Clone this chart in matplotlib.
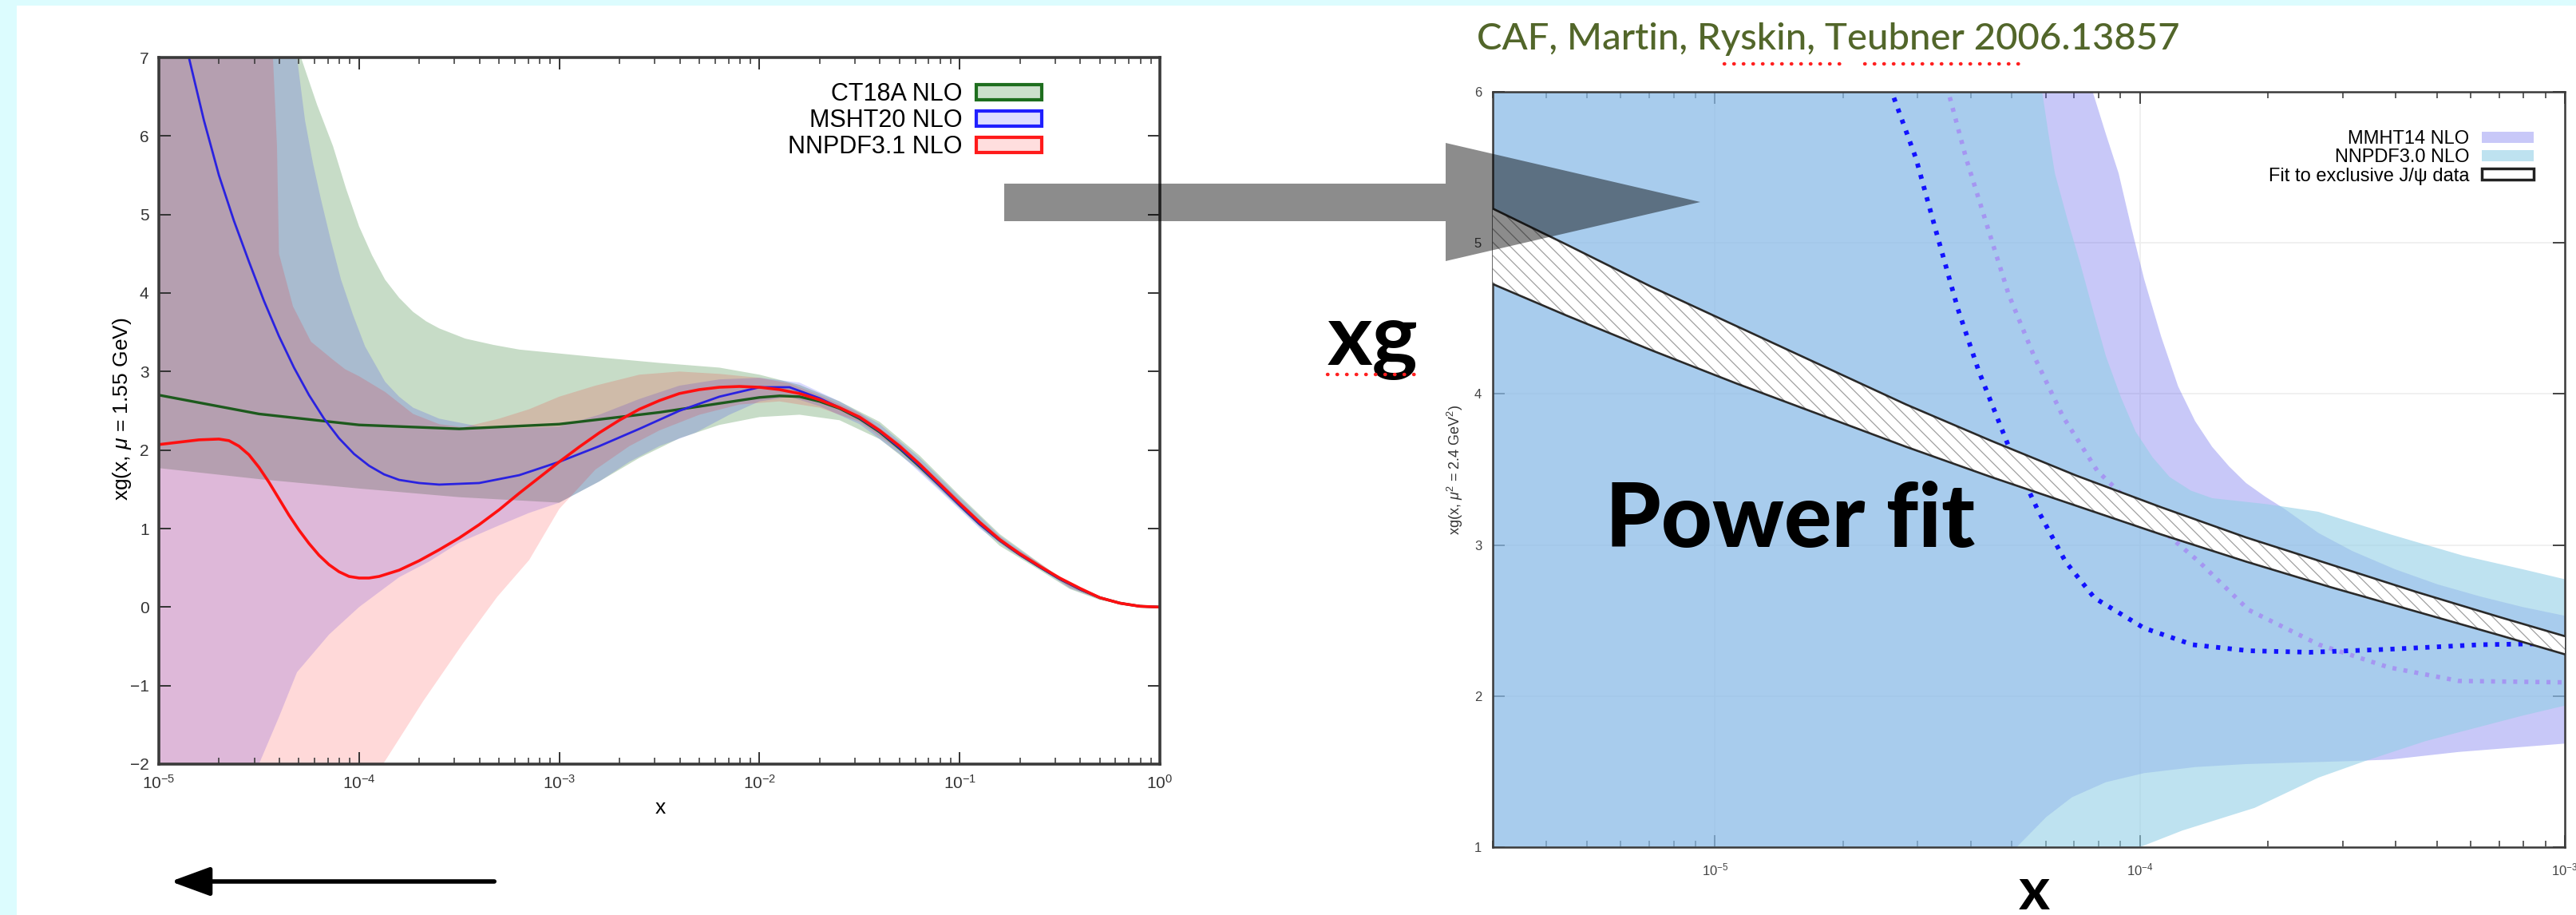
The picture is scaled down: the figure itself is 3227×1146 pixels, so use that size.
import numpy as np
import matplotlib
matplotlib.use("Agg")
import matplotlib.pyplot as plt
from matplotlib.patches import Patch, Polygon, Rectangle, FancyArrowPatch
from matplotlib.lines import Line2D
from matplotlib.ticker import LogLocator, NullFormatter

plt.rcParams['font.family'] = ['Liberation Sans', 'DejaVu Sans']
plt.rcParams['mathtext.fontset'] = 'custom'
plt.rcParams['mathtext.rm'] = 'Liberation Sans'
plt.rcParams['mathtext.it'] = 'Liberation Sans:italic'
plt.rcParams['hatch.linewidth'] = 0.9

W, H = 3227, 1146

# ---------------- left panel: xg at mu = 1.55 GeV (log10 x, xg) ----------------
ct_lx = [-5.0, -4.5, -4.0, -3.5, -3.0, -2.5, -2.0, -1.9, -1.8, -1.7, -1.6, -1.5, -1.4,
         -1.3, -1.2, -1.1, -1.0, -0.9, -0.8, -0.7, -0.6, -0.5, -0.4, -0.3, -0.2, -0.1, 0.0]
ct_y = [2.70, 2.46, 2.32, 2.27, 2.33, 2.48, 2.67, 2.69, 2.68, 2.62, 2.53, 2.40, 2.23,
        2.02, 1.79, 1.55, 1.30, 1.06, 0.85, 0.67, 0.51, 0.36, 0.23, 0.12, 0.05, 0.01, 0.0]

msht_lx = [-4.95, -4.85, -4.775, -4.7, -4.625, -4.55, -4.475, -4.4, -4.325, -4.25, -4.175,
           -4.1, -4.025, -3.95, -3.875, -3.8, -3.7, -3.6, -3.4, -3.2, -3.0, -2.8, -2.6,
           -2.4, -2.2, -2.0, -1.85, -1.7, -1.6, -1.5, -1.4, -1.3, -1.2, -1.1, -1.0, -0.9,
           -0.8, -0.7, -0.6, -0.5, -0.4, -0.3, -0.2, -0.1, 0.0]
msht_y = [8.0, 7.0, 6.2, 5.5, 4.92, 4.4, 3.9, 3.45, 3.05, 2.7, 2.4, 2.15, 1.95, 1.8,
          1.69, 1.62, 1.58, 1.56, 1.58, 1.68, 1.85, 2.05, 2.27, 2.5, 2.68, 2.8, 2.80,
          2.66, 2.54, 2.41, 2.24, 2.03, 1.80, 1.55, 1.30, 1.06, 0.85, 0.67, 0.51, 0.36,
          0.23, 0.12, 0.05, 0.01, 0.0]

nn31_lx = [-5.0, -4.9, -4.8, -4.7, -4.65, -4.6, -4.55, -4.5, -4.45, -4.4, -4.35, -4.3,
           -4.25, -4.2, -4.15, -4.1, -4.05, -4.0, -3.95, -3.9, -3.8, -3.7, -3.6, -3.5,
           -3.4, -3.3, -3.2, -3.1, -3.0, -2.9, -2.8, -2.7, -2.6, -2.5, -2.4, -2.3, -2.2,
           -2.1, -2.0, -1.9, -1.8, -1.7, -1.6, -1.5, -1.4, -1.3, -1.2, -1.1, -1.0, -0.9,
           -0.8, -0.7, -0.6, -0.5, -0.4, -0.3, -0.2, -0.1, 0.0]
nn31_y = [2.07, 2.10, 2.13, 2.14, 2.12, 2.05, 1.94, 1.78, 1.59, 1.38, 1.17, 0.98,
          0.81, 0.66, 0.54, 0.45, 0.39, 0.37, 0.37, 0.39, 0.47, 0.59, 0.73, 0.88,
          1.05, 1.24, 1.45, 1.65, 1.85, 2.04, 2.22, 2.38, 2.52, 2.63, 2.72, 2.77, 2.80,
          2.81, 2.80, 2.77, 2.72, 2.64, 2.54, 2.42, 2.25, 2.05, 1.82, 1.57, 1.32, 1.08,
          0.86, 0.68, 0.52, 0.37, 0.24, 0.12, 0.05, 0.01, 0.0]

ct_up_lx = [-5.0, -4.36, -4.29, -4.21, -4.13, -4.065, -4.0, -3.935, -3.87, -3.8, -3.73,
            -3.665, -3.6, -3.47, -3.33, -3.2, -2.8, -2.5, -2.2, -2.0, -1.8, -1.6, -1.4,
            -1.2, -1.0, -0.8, -0.6, -0.45, -0.3, -0.15, 0.0]
ct_up_y = [9.0, 8.0, 7.0, 6.4, 5.87, 5.33, 4.85, 4.48, 4.17, 3.94, 3.76,
           3.64, 3.55, 3.42, 3.34, 3.28, 3.18, 3.11, 3.05, 2.96, 2.83, 2.62, 2.36,
           1.93, 1.42, 0.93, 0.56, 0.29, 0.13, 0.04, 0.005]
ct_lo_lx = [-5.0, -4.5, -4.0, -3.5, -3.0, -2.8, -2.6, -2.4, -2.2, -2.0, -1.8, -1.6,
            -1.4, -1.2, -1.0, -0.8, -0.6, -0.45, -0.3, -0.15, 0.0]
ct_lo_y = [1.77, 1.63, 1.51, 1.40, 1.33, 1.6, 1.9, 2.15, 2.32, 2.42, 2.45, 2.38,
           2.14, 1.74, 1.26, 0.78, 0.47, 0.23, 0.09, 0.02, -0.005]

msht_up_lx = [-5.0, -4.35, -4.31, -4.27, -4.23, -4.19, -4.14, -4.09, -4.03, -3.97, -3.87,
              -3.8, -3.73, -3.6, -3.4, -3.2, -3.0, -2.8, -2.6, -2.4, -2.2, -2.0, -1.8,
              -1.6, -1.4, -1.2, -1.0, -0.8, -0.6, -0.45, -0.3, -0.15, 0.0]
msht_up_y = [9.0, 8.0, 7.0, 6.2, 5.65, 5.19, 4.66, 4.17, 3.72, 3.32, 2.87,
             2.68, 2.54, 2.40, 2.30, 2.28, 2.30, 2.45, 2.65, 2.82, 2.90, 2.92, 2.86,
             2.62, 2.33, 1.90, 1.40, 0.91, 0.55, 0.29, 0.12, 0.04, 0.004]
msht_lo_lx = [-5.0, -4.6, -4.5, -4.4, -4.31, -4.15, -4.0, -3.8, -3.65, -3.5, -3.31, -3.15,
              -3.0, -2.8, -2.65, -2.5, -2.32, -2.15, -2.0, -1.85, -1.7, -1.5, -1.3, -1.1,
              -0.9, -0.75, -0.6, -0.45, -0.3, -0.15, 0.0]
msht_lo_y = [-4.0, -3.0, -2.0, -1.4, -0.83, -0.35, 0.0, 0.38, 0.58, 0.82, 1.03, 1.2,
             1.33, 1.6, 1.85, 2.05, 2.22, 2.45, 2.62, 2.68, 2.56, 2.33, 1.95, 1.48,
             1.0, 0.72, 0.49, 0.24, 0.1, 0.02, -0.004]

nn31_up_lx = [-5.0, -4.45, -4.43, -4.41, -4.40, -4.33, -4.24, -4.13, -4.07, -4.0, -3.87, -3.73,
              -3.6, -3.48, -3.3, -3.15, -3.0, -2.82, -2.6, -2.4, -2.2, -2.0, -1.85, -1.7,
              -1.5, -1.3, -1.1, -0.9, -0.75, -0.6, -0.45, -0.3, -0.15, 0.0]
nn31_up_y = [9.0, 8.0, 7.0, 5.87, 4.50, 3.83, 3.38, 3.15, 3.03, 2.94, 2.74, 2.46,
             2.33, 2.29, 2.40, 2.52, 2.68, 2.82, 2.96, 3.0, 2.97, 2.92, 2.85, 2.70,
             2.47, 2.09, 1.61, 1.11, 0.79, 0.56, 0.29, 0.12, 0.04, 0.004]
nn31_lo_lx = [-5.0, -4.2, -3.88, -3.68, -3.48, -3.31, -3.15, -3.0, -2.82, -2.65, -2.5, -2.3,
              -2.1, -1.9, -1.7, -1.5, -1.3, -1.1, -0.9, -0.75, -0.6, -0.45, -0.3, -0.15, 0.0]
nn31_lo_y = [-6.0, -4.0, -2.0, -1.2, -0.46, 0.13, 0.6, 1.25, 1.75, 2.05, 2.25, 2.45,
             2.58, 2.62, 2.54, 2.36, 1.99, 1.52, 1.04, 0.73, 0.5, 0.25, 0.1, 0.02, -0.004]

left_labels = ['CT18A NLO', 'MSHT20 NLO', 'NNPDF3.1 NLO']

# ---------------- right panel: xg at mu^2 = 2.4 GeV^2 (log10 x, xg) ----------------
mmht_up_lx = [-5.6, -4.2, -4.111, -4.08, -4.05, -4.02, -3.99, -3.95, -3.91, -3.87, -3.83,
              -3.79, -3.75, -3.705, -3.66, -3.58, -3.5, -3.4, -3.3, -3.2, -3.1, -2.98]
mmht_up_y = [9.0, 8.0, 6.0, 5.72, 5.46, 5.1, 4.76, 4.38, 4.05, 3.82, 3.65,
             3.52, 3.41, 3.32, 3.24, 3.08, 2.96, 2.84, 2.74, 2.66, 2.59, 2.52]
mmht_lo_lx = [-5.6, -4.5, -4.29, -4.22, -4.16, -4.08, -3.99, -3.87, -3.75, -3.5, -3.41,
              -3.25, -2.98]
mmht_lo_y = [-1.0, 0.5, 1.0, 1.2, 1.33, 1.43, 1.49, 1.53, 1.55, 1.57, 1.58, 1.63, 1.69]

nn30_up_lx = [-5.6, -4.3, -4.23, -4.215, -4.20, -4.17, -4.14, -4.11, -4.08, -4.045, -4.01,
              -3.97, -3.93, -3.88, -3.83, -3.7, -3.58, -3.41, -3.24, -3.1, -2.98]
nn30_up_y = [9.0, 8.0, 6.0, 5.72, 5.46, 5.15, 4.86, 4.55, 4.25, 3.98, 3.75,
             3.58, 3.45, 3.36, 3.31, 3.27, 3.22, 3.07, 2.93, 2.84, 2.76]
nn30_lo_lx = [-5.6, -4.3, -4.0, -3.9, -3.73, -3.58, -3.47, -3.33, -3.25, -3.1, -2.98]
nn30_lo_y = [-1.0, 0.4, 1.0, 1.11, 1.26, 1.46, 1.57, 1.70, 1.76, 1.87, 1.95]

mmht_c_lx = [-4.63, -4.584, -4.527, -4.478, -4.428, -4.379, -4.30, -4.24, -4.175, -4.107,
             -3.99, -3.876, -3.744, -3.6, -3.414, -3.2, -2.98]
mmht_c_y = [6.4, 6.0, 5.56, 5.06, 4.56, 4.15, 3.59, 3.23, 2.89, 2.65,
            2.45, 2.34, 2.30, 2.29, 2.31, 2.34, 2.35]

nn30_c_lx = [-4.50, -4.448, -4.409, -4.358, -4.309, -4.249, -4.181, -4.100, -4.011,
             -3.861, -3.744, -3.578, -3.414, -3.249, -2.98]
nn30_c_y = [6.3, 5.97, 5.56, 5.10, 4.66, 4.25, 3.85, 3.49, 3.25,
            2.89, 2.57, 2.34, 2.19, 2.10, 2.09]

fit_lx = [-5.525, -5.35, -5.15, -4.95, -4.75, -4.55, -4.35, -4.15, -3.95, -3.75, -3.55,
          -3.35, -3.15, -2.98]
fit_up = [5.23, 4.99, 4.71, 4.45, 4.19, 3.93, 3.69, 3.46, 3.25, 3.05, 2.87, 2.69, 2.52, 2.38]
fit_lo = [4.73, 4.52, 4.29, 4.07, 3.86, 3.65, 3.45, 3.26, 3.07, 2.89, 2.72, 2.56, 2.40, 2.26]

right_labels = ['MMHT14 NLO', 'NNPDF3.0 NLO', 'Fit to exclusive J/\u03c8 data']


def px(X, Y):
    return X / W, 1 - Y / H


def band(ax, ulx, uy, llx, ly, **kw):
    xs = np.concatenate([10.0 ** np.array(ulx), 10.0 ** np.array(llx)[::-1]])
    ys = np.concatenate([uy, ly[::-1]])
    ax.fill(xs, ys, lw=0, **kw)


def gnuplot_axes(ax, lw):
    ax.set_xscale('log')
    ax.xaxis.set_major_locator(LogLocator(base=10, numticks=20))
    ax.xaxis.set_minor_locator(LogLocator(base=10, subs=np.arange(2, 10), numticks=20))
    ax.xaxis.set_minor_formatter(NullFormatter())
    ax.tick_params(which='both', direction='in', top=True, right=True, colors='#333333')
    ax.tick_params(which='major', length=11, width=1.4)
    ax.tick_params(which='minor', length=6, width=1.1)
    for s in ax.spines.values():
        s.set_linewidth(lw)
        s.set_color('#3a3a3a')


fig = plt.figure(figsize=(W / 100, H / 100), dpi=100)
fig.patch.set_facecolor('#dcfcfe')
fig.add_artist(Rectangle((21 / W, 0), 1, 1 - 7 / H, transform=fig.transFigure,
                         facecolor='white', edgecolor='none', zorder=-5))

# ---------------- left axes ----------------
ax1 = fig.add_axes([199 / W, 1 - 957 / H, 1254 / W, 885 / H])
band(ax1, ct_up_lx, ct_up_y, ct_lo_lx, ct_lo_y, color='#006400', alpha=0.22)
band(ax1, msht_up_lx, msht_up_y, msht_lo_lx, msht_lo_y, color='#0000ff', alpha=0.15)
band(ax1, nn31_up_lx, nn31_up_y, nn31_lo_lx, nn31_lo_y, color='#ff0000', alpha=0.15)
ax1.plot(10.0 ** np.array(ct_lx), ct_y, color='#1d5a1d', lw=2.4)
ax1.plot(10.0 ** np.array(msht_lx), msht_y, color='#2a22e0', lw=2.0)
ax1.plot(10.0 ** np.array(nn31_lx), nn31_y, color='#ff1010', lw=2.6)
gnuplot_axes(ax1, 2.6)
ax1.set_xlim(1e-5, 1)
ax1.set_ylim(-2, 7)
ax1.set_yticks(range(-2, 8))
ax1.tick_params(axis='both', labelsize=15, pad=9)

h1 = [Patch(facecolor=(0, 0.4, 0, 0.2), edgecolor='#1e6e1e', lw=3),
      Patch(facecolor=(0, 0, 1, 0.13), edgecolor='#2020ff', lw=3),
      Patch(facecolor=(1, 0, 0, 0.13), edgecolor='#ff1a1a', lw=3)]
ax1.legend(h1, left_labels, loc='upper right', bbox_to_anchor=(0.882, 0.965),
           frameon=False, markerfirst=False, fontsize=22, handlelength=2.7,
           handleheight=0.6, handletextpad=0.55, labelspacing=0.1,
           borderaxespad=0, borderpad=0)

fig.text(*px(153, 512), 'xg(x, $\\mu$ = 1.55 GeV)', rotation=90, ha='center', va='center',
         fontsize=19)
fig.text(*px(827, 1012), 'x', ha='center', va='center', fontsize=19)

# ---------------- right axes ----------------
ax2 = fig.add_axes([1870 / W, 1 - 1061 / H, 1343 / W, 946 / H])
ax2.set_axisbelow(True)
ax2.grid(True, which='major', color='#eeeeee', lw=1.2)
mmht_rgb = (98 / 255, 98 / 255, 235 / 255)
nn30_rgb = (147 / 255, 207 / 255, 230 / 255)
band(ax2, mmht_up_lx, mmht_up_y, mmht_lo_lx, mmht_lo_y, color=mmht_rgb, alpha=0.35)
band(ax2, nn30_up_lx, nn30_up_y, nn30_lo_lx, nn30_lo_y, color=nn30_rgb, alpha=0.6)
ax2.plot(10.0 ** np.array(nn30_c_lx), nn30_c_y, color='#a596f2', lw=4.0,
         linestyle=(0, (0.9, 1.6)), zorder=3)
ax2.plot(10.0 ** np.array(mmht_c_lx), mmht_c_y, color='#1212ff', lw=4.2,
         linestyle=(0, (0.9, 1.6)), zorder=3)
fx = 10.0 ** np.array(fit_lx)
ax2.fill_between(fx, fit_lo, fit_up, facecolor='white', edgecolor='#a0a0a0', hatch='\\\\',
                 lw=0, zorder=4)
ax2.plot(fx, fit_up, color='#2a2a2a', lw=1.9, zorder=5)
ax2.plot(fx, fit_lo, color='#2a2a2a', lw=1.9, zorder=5)
gnuplot_axes(ax2, 1.8)
ax2.set_xlim(3e-6, 1e-3)
ax2.set_ylim(1, 6)
ax2.set_yticks(range(1, 7))
ax2.tick_params(axis='both', labelsize=12, colors='#444444')
ax2.tick_params(axis='y', pad=10)
ax2.tick_params(axis='x', pad=13)

h2 = [Patch(facecolor=mmht_rgb + (0.35,), edgecolor='none'),
      Patch(facecolor=nn30_rgb + (0.6,), edgecolor='none'),
      Patch(facecolor='white', edgecolor='#222222', lw=2.5)]
ax2.legend(h2, right_labels, loc='upper right', bbox_to_anchor=(0.971, 0.949),
           frameon=False, markerfirst=False, fontsize=17, handlelength=2.75,
           handleheight=0.55, handletextpad=0.68, labelspacing=0.05,
           borderaxespad=0, borderpad=0)

fig.text(*px(1823, 588), 'xg(x, $\\mu^2$ = 2.4 GeV$^2$)', rotation=90, ha='center',
         va='center', fontsize=13, color='#333333')

# ---------------- slide overlays ----------------
fig.text(*px(1850, 62), 'CAF, Martin, Ryskin, Teubner 2006.13857', fontsize=34,
         family='Lato', weight='medium', color='#52662a', ha='left', va='baseline')
dots = dict(color='#ff2020', lw=3.2, linestyle=(0, (0.1, 2.6)), solid_capstyle='round',
            dash_capstyle='round', transform=fig.transFigure, zorder=12)
fig.add_artist(Line2D([2160 / W, 2315 / W], [1 - 80 / H] * 2, **dots))
fig.add_artist(Line2D([2336 / W, 2532 / W], [1 - 80 / H] * 2, **dots))

fig.text(*px(1720, 457), 'xg', fontsize=78, family='Lato', weight='bold', ha='center',
         va='baseline', zorder=11)
fig.add_artist(Line2D([1663 / W, 1778 / W], [1 - 469 / H] * 2, **dots))

fig.text(*px(2243, 652), 'Power fit', fontsize=80, family='Lato', weight='black',
         ha='center', va='center', zorder=11)
fig.text(*px(2548, 1139), 'x', fontsize=54, family='Lato', weight='bold', ha='center',
         va='baseline', zorder=11)

arrow_px = [(1258, 230), (1811, 230), (1811, 179), (2130, 253), (1811, 327), (1811, 277),
            (1258, 277)]
fig.add_artist(Polygon([px(X, Y) for X, Y in arrow_px], closed=True,
                       transform=fig.transFigure, facecolor='black', alpha=0.45,
                       edgecolor='none', zorder=20))

fig.add_artist(FancyArrowPatch(px(622, 1104), px(211, 1104), transform=fig.transFigure,
                               arrowstyle='-|>,head_length=1.5,head_width=0.55',
                               mutation_scale=20, lw=4, color='black', zorder=12))

fig.savefig('out.png', dpi=100, facecolor=fig.get_facecolor())
